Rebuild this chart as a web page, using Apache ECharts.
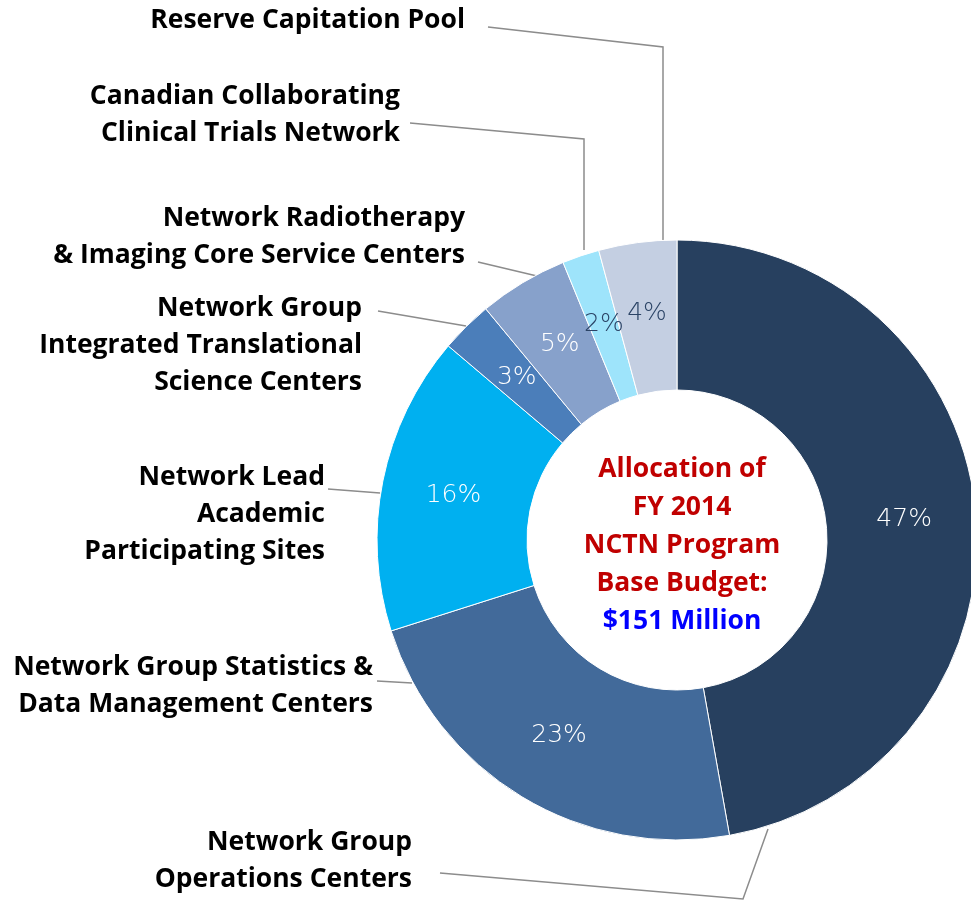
<!DOCTYPE html>
<html>
<head>
<meta charset="utf-8">
<script src="https://cdn.jsdelivr.net/npm/echarts@6/dist/echarts.min.js"></script>
<style>
  html, body { margin: 0; padding: 0; background: #fff; }
  #main { width: 971px; height: 900px; }
</style>
</head>
<body>
<div id="main"></div>
<script>
// slices, clockwise from 12 o'clock
var categories = [
  'Network Group\nOperations Centers',
  'Network Group Statistics &\nData Management Centers',
  'Network Lead\nAcademic\nParticipating Sites',
  'Network Group\nIntegrated Translational\nScience Centers',
  'Network Radiotherapy\n& Imaging Core Service Centers',
  'Canadian Collaborating\nClinical Trials Network',
  'Reserve Capitation Pool'
];
var shares = [47.2, 22.9, 16.1, 2.8, 4.8, 2.0, 4.2];
var shareLabels = ['47%', '23%', '16%', '3%', '5%', '2%', '4%'];
var centerLines = ['Allocation of', 'FY 2014', 'NCTN Program', 'Base Budget:'];
var centerTotal = '$151 Million';

var colors = ['#27405f', '#426a9a', '#00b0f0', '#4b7eba', '#87a1cb', '#9ee4fb', '#c4cfe2'];
var pctColors = ['#fff', '#fff', '#fff', '#fff', '#fff', '#2b4466', '#2b4466'];

// where the outer names sit (right edge, middle) and their leader lines
var nameSpots = [
  { x: 412, y: 861, line: [[440, 873], [743, 899], [768, 829]] },
  { x: 373, y: 686, line: [[377, 681], [412, 683]] },
  { x: 325, y: 514, line: [[328, 489], [380, 493]] },
  { x: 362, y: 345, line: [[378, 311], [466, 326]] },
  { x: 465, y: 237, line: [[478, 262], [537, 276]] },
  { x: 400, y: 115, line: [[410, 123], [584, 139], [584, 250]] },
  { x: 465, y: 20, line: [[488, 27], [663, 47], [663, 241]] }
];

var font = '"Open Sans", Lato, sans-serif';
var pctFont = '"DejaVu Sans", sans-serif';

var chart = echarts.init(document.getElementById('main'));

var ringData = categories.map(function (c, i) {
  return {
    name: c,
    value: shares[i],
    itemStyle: { color: colors[i] },
    label: { color: pctColors[i] }
  };
});

var option = {
  animation: false,
  title: {
    left: 677,
    top: 445,
    textAlign: 'center',
    text: centerLines.map(function (l) { return '{r|' + l + '}'; }).join('\n') + '\n{b|' + centerTotal + '}',
    textStyle: {
      rich: {
        r: { color: '#c00000', fontSize: 26.5, fontWeight: 'bold', fontFamily: font, lineHeight: 38, align: 'center' },
        b: { color: '#0000ff', fontSize: 26.5, fontWeight: 'bold', fontFamily: font, lineHeight: 38, align: 'center' }
      }
    }
  },
  series: [
    {
      type: 'pie',
      center: [677, 540],
      radius: [150, 300],
      startAngle: 90,
      clockwise: true,
      avoidLabelOverlap: false,
      itemStyle: { borderColor: '#fff', borderWidth: 1 },
      label: {
        position: 'inside',
        fontFamily: pctFont,
        fontSize: 25,
        fontWeight: 200,
        formatter: function (p) { return shareLabels[p.dataIndex]; }
      },
      labelLine: { show: false },
      data: ringData
    },
    {
      type: 'pie',
      center: [677, 540],
      radius: [150, 300],
      startAngle: 90,
      clockwise: true,
      silent: true,
      avoidLabelOverlap: false,
      itemStyle: { color: 'rgba(0,0,0,0)' },
      label: {
        position: 'outside',
        color: '#000',
        fontFamily: font,
        fontSize: 26.5,
        fontWeight: 'bold',
        lineHeight: 37,
        align: 'right',
        formatter: '{b}'
      },
      labelLine: { show: true, lineStyle: { color: '#8c8c8c', width: 1.5 } },
      labelLayout: function (p) {
        var s = nameSpots[p.dataIndex];
        return {
          x: s.x,
          y: s.y,
          align: 'right',
          verticalAlign: 'middle',
          labelLinePoints: s.line
        };
      },
      data: categories.map(function (c, i) { return { name: c, value: shares[i] }; })
    }
  ]
};

chart.setOption(option);
</script>
</body>
</html>
